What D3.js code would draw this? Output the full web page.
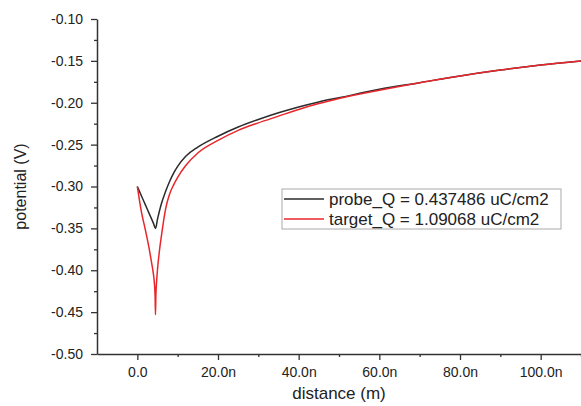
<!DOCTYPE html>
<html>
<head>
<meta charset="utf-8">
<script src="https://cdn.jsdelivr.net/npm/d3@7"></script>
<style>
  body { margin: 0; background: #fff; }
  text { font-family: "Liberation Sans", Arial, sans-serif; fill: #222; }
</style>
</head>
<body>
<div id="chart"></div>
<script>
// distance in nm, potential in V
var probeX = [0, 1, 2, 3, 4, 4.5, 5, 6, 7, 8, 9, 10, 12, 15, 20, 25, 30, 35, 40, 45, 50, 60, 70, 80, 90, 100, 110];
var probeY = [-0.300, -0.311, -0.322, -0.333, -0.344, -0.350, -0.339, -0.320, -0.306, -0.294, -0.284, -0.276, -0.264,
              -0.253, -0.240, -0.229, -0.220, -0.212, -0.205, -0.199, -0.194, -0.184, -0.176, -0.168, -0.161, -0.155, -0.150];
var targetX = [0, 1, 2, 3, 3.5, 4, 4.2, 4.4, 4.5, 4.6, 4.8, 5, 5.5, 6, 7, 8, 9, 10, 12, 15, 20, 25, 30, 35, 40, 45, 50, 60, 70, 80, 90, 100, 110];
var targetY = [-0.300, -0.330, -0.352, -0.376, -0.390, -0.405, -0.414, -0.430, -0.453, -0.430, -0.412, -0.399,
               -0.376, -0.358, -0.327, -0.309, -0.298, -0.289, -0.275, -0.260, -0.245, -0.233, -0.224, -0.216,
               -0.208, -0.201, -0.195, -0.185, -0.176, -0.168, -0.161, -0.155, -0.150];
var xTicks = [0, 20, 40, 60, 80, 100];
var yTicks = [-0.50, -0.45, -0.40, -0.35, -0.30, -0.25, -0.20, -0.15, -0.10];
var seriesNames = ["probe_Q = 0.437486 uC/cm2", "target_Q = 1.09068 uC/cm2"];
var seriesColors = ["#2b2b2b", "#e8262b"];

(function(){

var width = 581, height = 406;
var margin = {left: 97, right: 581, top: 19, bottom: 354};

var svg = d3.select("#chart")
  .append("svg")
    .attr("width", width)
    .attr("height", height);

var x = d3.scaleLinear().domain([-10, 110]).range([margin.left, margin.right]);
var y = d3.scaleLinear().domain([-0.50, -0.10]).range([margin.bottom, margin.top]);

// minor ticks
svg.append("g")
   .attr("transform", "translate(0," + margin.bottom + ")")
   .call(d3.axisBottom(x).tickValues(d3.range(10, 111, 20)).tickSize(3).tickFormat(""))
   .call(g => g.select(".domain").remove());
svg.append("g")
   .attr("transform", "translate(" + margin.left + ",0)")
   .call(d3.axisLeft(y).tickValues(d3.range(-0.475, -0.1, 0.05)).tickSize(3).tickFormat(""))
   .call(g => g.select(".domain").remove());

svg.append("g")
   .attr("transform", "translate(0," + margin.bottom + ")")
   .call(d3.axisBottom(x).tickValues(xTicks).tickSize(6).tickPadding(7).tickSizeOuter(0)
     .tickFormat(function(d) { return d === 0 ? "0.0" : d.toFixed(1) + "n"; }));

svg.append("g")
   .attr("transform", "translate(" + margin.left + ",0)")
   .call(d3.axisLeft(y).tickValues(yTicks).tickSize(6).tickPadding(8).tickSizeOuter(0)
     .tickFormat(function(d) { return d.toFixed(2); }));  // plain hyphen minus

svg.selectAll(".tick text").attr("font-size", "14px").style("fill", "#222");
svg.selectAll(".tick line").attr("stroke", "#333").attr("stroke-width", 1.3);
svg.selectAll(".domain").attr("stroke", "#333").attr("stroke-width", 1.5);

svg.append("text")
   .attr("x", (margin.left + margin.right) / 2)
   .attr("y", 399)
   .attr("text-anchor", "middle")
   .attr("font-size", "17px")
   .text("distance (m)");

svg.append("text")
   .attr("transform", "translate(26," + (margin.top + margin.bottom) / 2 + ") rotate(-90)")
   .attr("text-anchor", "middle")
   .attr("font-size", "16px")
   .text("potential (V)");

var line = d3.line()
   .x(function(d) { return x(d[0]); })
   .y(function(d) { return y(d[1]); })
   .curve(d3.curveMonotoneX);

var series = [d3.zip(probeX, probeY), d3.zip(targetX, targetY)];

svg.selectAll("path.series")
   .data(series)
   .enter()
   .append("path")
     .attr("class", "series")
     .attr("fill", "none")
     .attr("stroke", function(d, i) { return seriesColors[i]; })
     .attr("stroke-width", 1.5)
     .attr("d", line);

// legend
var legend = svg.append("g").attr("transform", "translate(282,189)");
legend.append("rect")
   .attr("width", 279).attr("height", 40)
   .attr("fill", "#fff")
   .attr("stroke", "#aaa");
var items = legend.selectAll("g.item")
   .data(seriesNames)
   .enter()
   .append("g")
     .attr("transform", function(d, i) { return "translate(0," + (10 + i * 20) + ")"; });
items.append("line")
   .attr("x1", 2).attr("x2", 42)
   .attr("stroke", function(d, i) { return seriesColors[i]; })
   .attr("stroke-width", 1.5);
items.append("text")
   .attr("x", 47)
   .attr("dy", "0.35em")
   .attr("font-size", "17px")
   .text(function(d) { return d; });

})()
</script>
</body>
</html>
